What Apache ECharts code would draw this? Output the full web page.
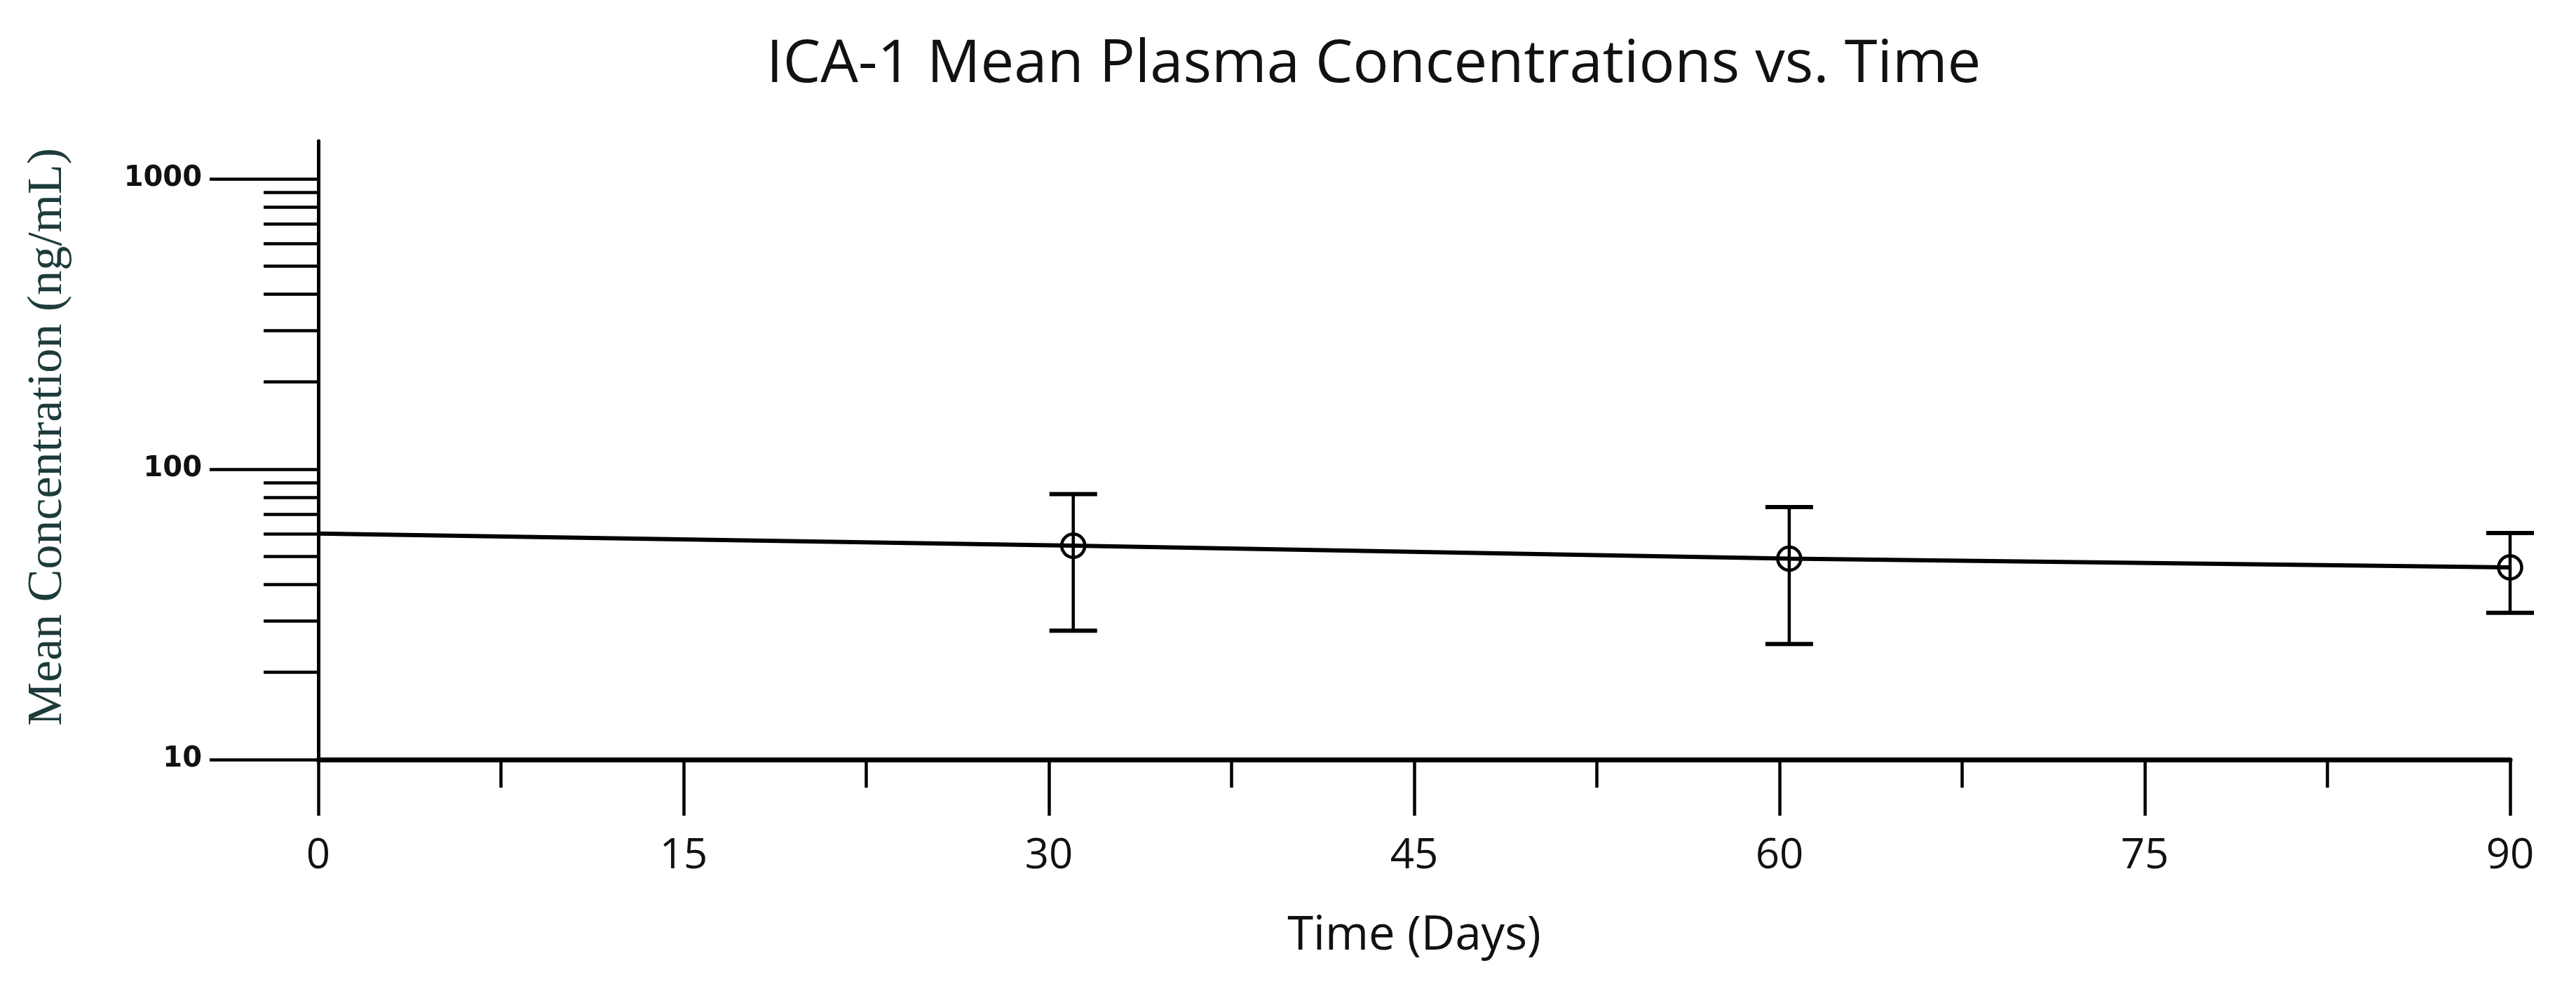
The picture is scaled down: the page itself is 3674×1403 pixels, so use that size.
<!DOCTYPE html>
<html>
<head>
<meta charset="utf-8">
<script src="https://cdn.jsdelivr.net/npm/echarts@6/dist/echarts.min.js"></script>
<style>
html,body{margin:0;padding:0;background:#fff;}
#chart{width:3674px;height:1403px;}
</style>
</head>
<body>
<div id="chart"></div>
<script>
// ---- data ----
const lineDays = [0, 31, 60.4, 90];
const lineConc = [60, 54.5, 49.2, 45.9];
const obsDays = [31, 60.4, 90];
const obsMean = [54.5, 49.2, 45.9];
const obsLow = [27.8, 25.0, 32.0];
const obsHigh = [82.1, 74.1, 60.3];
const yMajorTicks = [10, 100, 1000];
const yMinorTicks = [20, 30, 40, 50, 60, 70, 80, 90, 200, 300, 400, 500, 600, 700, 800, 900];
const titleText = 'ICA-1 Mean Plasma Concentrations vs. Time';
const xName = 'Time (Days)';
const yName = 'Mean Concentration (ng/mL)';

const chart = echarts.init(document.getElementById('chart'));
const black = '#000';

const option = {
  backgroundColor: '#fff',
  animation: false,
  title: {
    text: titleText,
    left: 1093,
    top: 50,
    padding: 0,
    textStyle: { fontFamily: 'Open Sans', fontSize: 85, fontWeight: 'normal', color: '#111' }
  },
  grid: { left: 454, right: 94, top: 201, bottom: 320, containLabel: false, outerBoundsMode: 'none' },
  xAxis: {
    type: 'value', min: 0, max: 90, interval: 15,
    axisLine: { onZero: false, lineStyle: { color: black, width: 7 } },
    axisTick: { length: 80, lineStyle: { color: black, width: 4.5 } },
    minorTick: { show: true, splitNumber: 2, length: 40, lineStyle: { color: black, width: 4.5 } },
    splitLine: { show: false },
    minorSplitLine: { show: false },
    axisLabel: { margin: 108, fontFamily: 'Open Sans', fontSize: 60, color: '#111' },
    name: xName, nameLocation: 'middle', nameGap: 218,
    nameTextStyle: { fontFamily: 'Open Sans', fontSize: 67, color: '#111' }
  },
  yAxis: [
    {
      type: 'log', logBase: 10, min: 10, max: 1350, position: 'left',
      axisLine: { onZero: false, lineStyle: { color: black, width: 5 } },
      axisTick: { customValues: yMajorTicks, length: 155, lineStyle: { color: black, width: 4.5 } },
      axisLabel: {
        customValues: yMajorTicks, margin: 166,
        formatter: function (v) { return String(Math.round(v)); },
        fontFamily: 'DejaVu Sans', fontWeight: 'bold', fontSize: 40, color: '#111'
      },
      splitLine: { show: false },
      name: yName, nameLocation: 'middle', nameGap: 350, nameRotate: 90,
      nameTextStyle: { fontFamily: 'Liberation Serif', fontSize: 70, color: '#1e3b3b', padding: [0, 0, 0, 38] }
    },
    {
      type: 'log', logBase: 10, min: 10, max: 1350, position: 'left',
      axisLine: { show: false },
      axisTick: { customValues: yMinorTicks, length: 78, lineStyle: { color: black, width: 4.5 } },
      axisLabel: { show: false },
      splitLine: { show: false }
    }
  ],
  series: [
    {
      type: 'line',
      data: lineDays.map((d, i) => [d, lineConc[i]]),
      symbol: 'none',
      lineStyle: { color: black, width: 6 },
      silent: true
    },
    {
      type: 'custom',
      data: obsDays.map((d, i) => [d, obsMean[i], obsLow[i], obsHigh[i]]),
      clip: false,
      silent: true,
      renderItem: function (params, api) {
        const x = api.value(0), m = api.value(1), lo = api.value(2), hi = api.value(3);
        const c = api.coord([x, m]);
        const t = api.coord([x, hi]);
        const b = api.coord([x, lo]);
        const hw = 34;
        return {
          type: 'group',
          children: [
            { type: 'line', shape: { x1: c[0], y1: t[1], x2: c[0], y2: b[1] }, style: { stroke: black, lineWidth: 4.5 } },
            { type: 'line', shape: { x1: c[0] - hw, y1: t[1], x2: c[0] + hw, y2: t[1] }, style: { stroke: black, lineWidth: 6 } },
            { type: 'line', shape: { x1: c[0] - hw, y1: b[1], x2: c[0] + hw, y2: b[1] }, style: { stroke: black, lineWidth: 6 } },
            { type: 'circle', shape: { cx: c[0], cy: c[1], r: 16.5 }, style: { fill: 'none', stroke: black, lineWidth: 4.5 } }
          ]
        };
      }
    }
  ]
};
chart.setOption(option);
</script>
</body>
</html>
